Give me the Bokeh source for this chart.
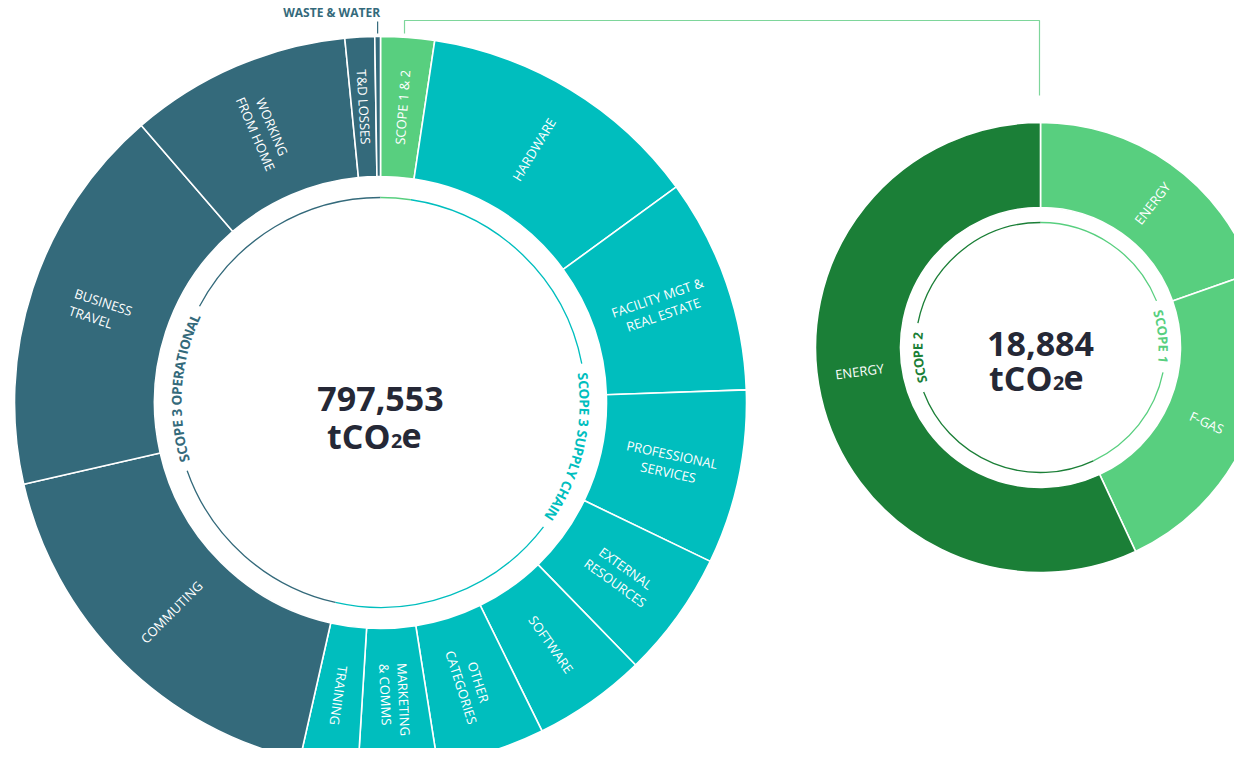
from math import sin, cos, radians, pi
from bokeh.plotting import figure
from bokeh.models import Range1d
from bokeh.core.properties import value
from bokeh.embed import file_html
from bokeh.resources import INLINE

# ---------------- data ----------------
main_categories = ["SCOPE 1 & 2", "HARDWARE", "FACILITY MGT &\nREAL ESTATE",
                   "PROFESSIONAL\nSERVICES", "EXTERNAL\nRESOURCES", "SOFTWARE",
                   "OTHER\nCATEGORIES", "MARKETING\n& COMMS", "TRAINING",
                   "COMMUTING", "BUSINESS\nTRAVEL", "WORKING\nFROM HOME",
                   "T&D LOSSES", "WASTE & WATER"]
main_values = [18884, 100580, 75545, 61367, 44530, 39877, 38105, 27693, 20382,
               142626, 137576, 77982, 10412, 1994]
main_groups = ["SCOPE 1 & 2"] + ["SCOPE 3 SUPPLY CHAIN"] * 8 + ["SCOPE 3 OPERATIONAL"] * 5

scope_categories = ["ENERGY", "F-GAS", "ENERGY"]
scope_values = [3703, 4428, 10753]
scope_groups = ["SCOPE 1", "SCOPE 1", "SCOPE 2"]

unit_main = "tCO"
unit_sub = "2"
unit_tail = "e"

# ---------------- style ----------------
TEAL = "#00BEBE"
SLATE = "#346A7B"
LGREEN = "#58CF7F"
DGREEN = "#1B7F37"
CONNECT = "#7ED69B"
INK = "#252836"
FONT = "Open Sans"

group_color = {"SCOPE 1 & 2": LGREEN, "SCOPE 3 SUPPLY CHAIN": TEAL,
               "SCOPE 3 OPERATIONAL": SLATE, "SCOPE 1": LGREEN, "SCOPE 2": DGREEN}

H = 764  # page height used to convert page y into data y


def Y(py):
    return H - py


CX1, CY1 = 380, Y(402)
R1_IN, R1_OUT, R1_ARC = 226, 366, 205
CX2, CY2 = 1040, Y(347)
R2_IN, R2_OUT, R2_ARC = 140, 225, 125

p = figure(width=1234, height=748, x_range=Range1d(0, 1234), y_range=Range1d(16, 764),
           output_backend="svg", toolbar_location=None, min_border=0)
p.axis.visible = False
p.grid.visible = False
p.outline_line_color = None
p.background_fill_color = "white"
p.border_fill_color = "white"

BOLD_W = {"A": .68, "B": .66, "C": .63, "D": .72, "E": .56, "F": .53, "G": .71, "H": .74,
          "I": .32, "J": .30, "K": .64, "L": .53, "M": .88, "N": .76, "O": .77, "P": .62,
          "Q": .77, "R": .64, "S": .56, "T": .58, "U": .73, "V": .64, "W": .95, "X": .63,
          "Y": .60, "Z": .57, " ": .26, "&": .72, "-": .32}


def cw(ch):
    return BOLD_W.get(ch, .57)


def text_w(s, fs, bold=False):
    return sum(cw(c) for c in s) * fs * (1.0 if bold else 0.93)


def pos(cx, cy, r, th):
    t = radians(th)
    return cx + r * sin(t), cy + r * cos(t)


def cum_angles(values):
    tot = float(sum(values))
    out, c = [], 0.0
    for v in values:
        a0 = c / tot * 360
        c += v
        out.append((a0, c / tot * 360))
    return out


def draw_ring(cx, cy, rin, rout, values, groups):
    angs = cum_angles(values)
    p.annular_wedge(x=cx, y=cy, inner_radius=rin, outer_radius=rout,
                    start_angle=[radians(90 - a1) for a0, a1 in angs],
                    end_angle=[radians(90 - a0) for a0, a1 in angs],
                    direction="anticlock",
                    fill_color=[group_color[g] for g in groups],
                    line_color="white", line_width=1.6)
    return angs


def seg_labels(cx, cy, r, angs, labels, inward_fn, align=None, th_shift=None, fs=13, lh=18):
    xs, ys, ts, an, al = [], [], [], [], []
    align = align or {}
    th_shift = th_shift or {}
    for i, ((a0, a1), txt) in enumerate(zip(angs, labels)):
        if txt is None:
            continue
        th = (a0 + a1) / 2 + th_shift.get(i, 0)
        a = 90 - th
        if inward_fn(th):
            a += 180
        ar = radians(a)
        dx, dy = cos(ar), sin(ar)
        px_, py_ = sin(ar), -cos(ar)
        bx, by = pos(cx, cy, r, th)
        lines = txt.split("\n")
        mode = align.get(i, "center")
        if mode == "left":
            W = max(text_w(l, fs) for l in lines)
            bx -= W / 2 * dx
            by -= W / 2 * dy
        for k, l in enumerate(lines):
            off = (k - (len(lines) - 1) / 2) * lh
            xs.append(bx + off * px_)
            ys.append(by + off * py_)
            ts.append(l)
            an.append(ar)
            al.append(mode)
    p.text(x=xs, y=ys, text=ts, angle=an, text_align=al, text_baseline="middle",
           text_font=value(FONT), text_font_size=f"{fs}px", text_color="white")


def arc_text(cx, cy, r, th_c, txt, span_px, color, fs=13.5):
    ws = [cw(c) for c in txt]
    tot = sum(ws)
    scale = span_px / tot
    deg_per_px = 180 / (pi * r)
    start = th_c - span_px / 2 * deg_per_px
    xs, ys, an = [], [], []
    c = 0.0
    for w in ws:
        th = start + (c + w / 2) * scale * deg_per_px
        c += w
        x, y = pos(cx, cy, r, th)
        xs.append(x)
        ys.append(y)
        an.append(-radians(th))
    p.text(x=xs, y=ys, text=list(txt), angle=an, text_align="center", text_baseline="middle",
           text_font=value(FONT), text_font_size=f"{fs}px", text_font_style="bold",
           text_color=color)
    half = span_px / 2 * deg_per_px
    return th_c - half, th_c + half


def group_arc(cx, cy, r, th0, th1, color, gaps=()):
    segs = [(th0, th1)]
    for g0, g1 in gaps:
        new = []
        for s0, s1 in segs:
            if g1 <= s0 or g0 >= s1:
                new.append((s0, s1))
            else:
                if g0 > s0:
                    new.append((s0, g0))
                if g1 < s1:
                    new.append((g1, s1))
        segs = new
    p.arc(x=cx, y=cy, radius=r,
          start_angle=[radians(90 - s1) for s0, s1 in segs],
          end_angle=[radians(90 - s0) for s0, s1 in segs],
          direction="anticlock", line_color=color, line_width=1.3)


def group_ranges(angs, groups):
    rng = {}
    for (a0, a1), g in zip(angs, groups):
        if g in rng:
            rng[g] = (rng[g][0], a1)
        else:
            rng[g] = (a0, a1)
    return rng


def unit_text(cx, base_y, fs, split_dx, tail_dx):
    p.text(x=[cx + split_dx], y=[base_y], text=[unit_main], text_align="right",
           text_baseline="alphabetic", text_font=value(FONT), text_font_size=f"{fs}px",
           text_font_style="bold", text_color=INK)
    p.text(x=[cx + split_dx + 0.5], y=[base_y - 5], text=[unit_sub], text_align="left",
           text_baseline="alphabetic", text_font=value(FONT), text_font_size=f"{fs * 0.58:.1f}px",
           text_font_style="bold", text_color=INK)
    p.text(x=[cx + tail_dx], y=[base_y], text=[unit_tail], text_align="left",
           text_baseline="alphabetic", text_font=value(FONT), text_font_size=f"{fs}px",
           text_font_style="bold", text_color=INK)


# ---------------- main donut ----------------
angs1 = draw_ring(CX1, CY1, R1_IN, R1_OUT, main_values, main_groups)
inner_labels = main_categories[:-1] + [None]
seg_labels(CX1, CY1, (R1_IN + R1_OUT) / 2, angs1, inner_labels,
           inward_fn=lambda th: 195 < th < 360,
           align={7: "left", 10: "left"})

rng1 = group_ranges(angs1, main_groups)
pad1 = 9 * 180 / (pi * R1_ARC)
t0, t1 = arc_text(CX1, CY1, R1_ARC - 1, 103.2, "SCOPE 3 SUPPLY CHAIN", 154, TEAL)
group_arc(CX1, CY1, R1_ARC, *rng1["SCOPE 3 SUPPLY CHAIN"], TEAL, gaps=[(t0 - pad1, t1 + pad1)])
t0, t1 = arc_text(CX1, CY1, R1_ARC - 1, 274.3, "SCOPE 3 OPERATIONAL", 151, SLATE)
group_arc(CX1, CY1, R1_ARC, *rng1["SCOPE 3 OPERATIONAL"], SLATE, gaps=[(t0 - pad1, t1 + pad1)])
group_arc(CX1, CY1, R1_ARC, *rng1["SCOPE 1 & 2"], LGREEN)

# waste & water call-out
wa0, wa1 = angs1[-1]
wx, _ = pos(CX1, CY1, R1_OUT, (wa0 + wa1) / 2)
p.segment(x0=wx, y0=CY1 + R1_OUT + 3, x1=wx, y1=Y(21), line_color=SLATE, line_width=1.2)
p.text(x=[wx - 46], y=[Y(12)], text=[main_categories[-1]], text_align="center",
       text_baseline="middle", text_font=value(FONT), text_font_size="12px",
       text_font_style="bold", text_color=SLATE)

# centre total
total1 = f"{sum(main_values):,}"
p.text(x=[CX1], y=[Y(398)], text=[total1], text_align="center", text_baseline="alphabetic",
       text_font=value(FONT), text_font_size="34px", text_font_style="bold", text_color=INK)
unit_text(CX1, Y(435), 34, 10, 21)

# ---------------- scope 1 & 2 donut ----------------
angs2 = draw_ring(CX2, CY2, R2_IN, R2_OUT, scope_values, scope_groups)
seg_labels(CX2, CY2, (R2_IN + R2_OUT) / 2, angs2, scope_categories,
           inward_fn=lambda th: 195 < th < 360, th_shift={0: 2.5, 1: 1.5, 2: 5})
rng2 = group_ranges(angs2, scope_groups)
pad2 = 9 * 180 / (pi * R2_ARC)
t0, t1 = arc_text(CX2, CY2, R2_ARC - 2, 84.8, "SCOPE 1", 54, LGREEN, fs=13)
group_arc(CX2, CY2, R2_ARC, *rng2["SCOPE 1"], LGREEN, gaps=[(t0 - pad2, t1 + pad2)])
t0, t1 = arc_text(CX2, CY2, R2_ARC - 2, 265.2, "SCOPE 2", 51, DGREEN, fs=13)
group_arc(CX2, CY2, R2_ARC, *rng2["SCOPE 2"], DGREEN, gaps=[(t0 - pad2, t1 + pad2)])

total2 = f"{sum(scope_values):,}"
p.text(x=[CX2], y=[Y(343)], text=[total2], text_align="center", text_baseline="alphabetic",
       text_font=value(FONT), text_font_size="34px", text_font_style="bold", text_color=INK)
unit_text(CX2, Y(377), 34, 12, 23)

# ---------------- connector ----------------
s0, s1 = angs1[0]
sx, _ = pos(CX1, CY1, R1_OUT, (s0 + s1) / 2 - 0.5)
p.line(x=[sx, sx, CX2 - 1, CX2 - 1], y=[Y(33), Y(20), Y(20), Y(95)],
       line_color=CONNECT, line_width=1.2)

open("out.html", "w").write(file_html(p, INLINE))
